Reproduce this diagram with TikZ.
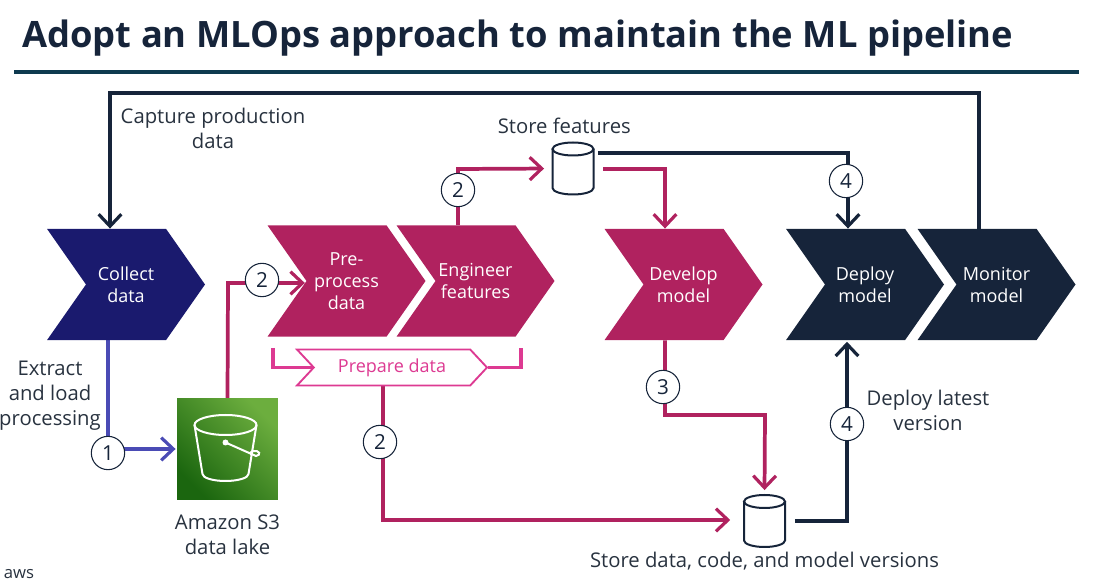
\documentclass[tikz,border=0pt]{standalone}
\usepackage{fontspec}
\setmainfont{Open Sans}
\usetikzlibrary{shapes.geometric, shapes.symbols, arrows.meta}
\usetikzlibrary{positioning, backgrounds}
\definecolor{navy}{HTML}{1A1A6E}
\definecolor{berry}{HTML}{B0225F}
\definecolor{ink}{HTML}{16243A}
\definecolor{violet}{HTML}{4A4BB5}
\definecolor{rose}{HTML}{DD3A92}
\definecolor{rule}{HTML}{0E3A4F}
\definecolor{label}{HTML}{28323F}
\definecolor{s3dark}{HTML}{1B660F}
\definecolor{s3light}{HTML}{6CAE3E}
\tikzstyle{chev} = [signal, signal from=west, signal to=east,
signal pointer angle=110,
minimum width=118.5pt,
minimum height=83.5pt,
inner sep=0pt,
text=white,
align=center,
font=\fontsize{13.5}{16.5}\selectfont]
\tikzstyle{num} = [circle,
minimum size=25pt,
inner sep=0pt,
fill=white,
draw=ink,
line width=0.8pt,
text=ink,
font=\fontsize{15.5}{18}\selectfont]
\tikzstyle{store} = [rectangle,
minimum width=31pt,
minimum height=40pt,
inner sep=0pt]
\tikzstyle{lbl} = [text=label,
align=center,
inner sep=0pt,
font=\fontsize{15.2}{18.7}\selectfont]
\tikzstyle{arrow} = [line width=2.8pt,-{Straight Barb[length=9pt,width=17pt,line width=2.4pt]}]
\tikzstyle{bracket} = [line width=2.3pt, rose]
\tikzstyle{bucket} = [white, line width=1.5pt]
\tikzset{drum/.pic={
  \draw [ink, line width=1.5pt] (0,-19.5) ellipse [x radius=20.5, y radius=6.5];
  \draw [ink, line width=1.5pt] (-20.5,-19.5) -- (-20.5,19.5) arc [start angle=180, end angle=0, x radius=20.5, y radius=6.5] -- (20.5,-19.5);
}}

\begin{document}
\begin{tikzpicture}[x=0.75pt,y=-0.75pt]
\useasboundingbox (0,0) rectangle (1097,584);

\node (title) [anchor=west, inner sep=0pt, text=ink, font=\fontsize{27.25}{30}\selectfont\bfseries] at (22,38) {Adopt an MLOps approach to maintain the ML pipeline};
\coordinate (rule_l) at (14,72);
\coordinate (rule_r) at (1079,72);
\draw [rule, line width=3pt] (rule_l) -- (rule_r);

\node (collect) [chev, fill=navy] at (126,284.5) {Collect\\data};
\node (preproc) [chev, fill=berry] at (346.5,281) {Pre-\\process\\data};
\node (engineer) [chev, fill=berry] at (475.5,281) {Engineer\\features};
\node (develop) [chev, fill=berry] at (683.5,284.5) {Develop\\model};
\node (deploy) [chev, fill=ink] at (865,284.5) {Deploy\\model};
\node (monitor) [chev, fill=ink] at (996.5,284.5) {Monitor\\model};

\node (prepare) [signal, signal from=west, signal to=east, signal pointer angle=94,
  minimum width=142.5pt, minimum height=27pt, inner sep=0pt,
  draw=rose, line width=1.4pt, fill=white, text=rose,
  font=\fontsize{13.5}{16}\selectfont] at (392,367.5) {Prepare data};

\node (s3) [rectangle, minimum size=75.5pt, inner sep=0pt,
  bottom color=s3dark, top color=s3light, shading angle=-45] at (227.5,449) {};
% bucket
\draw [bucket] (225.5,425) ellipse [x radius=31, y radius=10];
\draw [bucket] (194.5,425) -- (202.5,474) arc [start angle=180, end angle=0, x radius=23, y radius=7] -- (256.5,425);
\draw [bucket] (225.5,442.5) -- (256,456) arc [start angle=75, end angle=-220, x radius=4.5, y radius=2.6];
\fill [white] (225.5,442.5) circle (3);

\node (store_feat) [store] at (573,168.5) {};
\node (store_all) [store] at (764.5,521) {};
\path (store_feat) pic {drum};
\path (store_all) pic {drum};

\node (cap_lbl) [lbl] at (213,128.5) {Capture production\\data};
\node (feat_lbl) [lbl, above=6pt of store_feat, xshift=-6.5pt] {Store features};
\node (ext_lbl) [lbl] at (50,396) {Extract\\and load\\processing};
\node (s3_lbl) [lbl, below=11pt of s3] {Amazon S3\\data lake};
\node (ver_lbl) [lbl, below=3pt of store_all] {Store data, code, and model versions};
\node (dep_lbl) [lbl] at (928,410.5) {Deploy latest\\version};
\node (aws_lbl) [text=label, inner sep=0pt, font=\fontsize{12.5}{14}\selectfont] at (19,574) {aws};

\node (num_one) [num] at (108,453) {1};
\node (num_pre) [num] at (262,280) {2};
\node (num_eng) [num] at (458,190) {2};
\node (num_prep) [num] at (380,442) {2};
\node (num_dev) [num] at (663,387) {3};
\node (num_top) [num] at (846,181) {4};
\node (num_low) [num] at (847,424) {4};

\coordinate (top_r) at (979,93);
\coordinate (top_l) at (110,93);
\coordinate (s3_up) at (228,283);
\coordinate (eng_up) at (458,169);
\coordinate (feat_pink) at (665,169);
\coordinate (feat_ink) at (848,153);
\coordinate (dev_low) at (665,415);
\coordinate (all_in) at (765,415);
\coordinate (prep_low) at (383,520);
\coordinate (all_out) at (847,521);
\coordinate (brk_l) at (273,348);
\coordinate (brk_r) at (521,348);

\begin{scope}[on background layer]
\draw [arrow, ink] (monitor.north -| top_r) -- (top_r) -- (top_l) -- (top_l |- collect.north);
\draw [arrow, violet, shorten >=1pt] (collect.south -| num_one) -- (num_one |- s3.west) -- (s3.west);
\draw [arrow, berry, shorten >=1pt] (s3.north) -- (s3_up) -- (s3_up -| preproc.west);
\draw [arrow, berry, shorten >=6pt] (engineer.north -| eng_up) -- (eng_up) -- (store_feat.west);
\draw [arrow, berry] ([xshift=7pt]store_feat.east |- eng_up) -- (feat_pink) -- (feat_pink |- develop.north);
\draw [arrow, ink] ([xshift=3pt]store_feat.east |- feat_ink) -- (feat_ink) -- (feat_ink |- deploy.north);
\draw [arrow, berry, shorten >=3pt] (develop.south -| dev_low) -- (dev_low) -- (all_in) -- (store_all.north);
\draw [arrow, berry, shorten >=10pt] (prepare.south -| prep_low) -- (prep_low) -- (prep_low -| store_all.west);
\draw [arrow, ink, shorten >=1pt] ([xshift=7pt]store_all.east) -- (all_out) -- (all_out |- deploy.south);
\draw [bracket] (brk_l) |- (prepare.west);
\draw [bracket] (prepare.east) -| (brk_r);
\end{scope}

\end{tikzpicture}
\end{document}
